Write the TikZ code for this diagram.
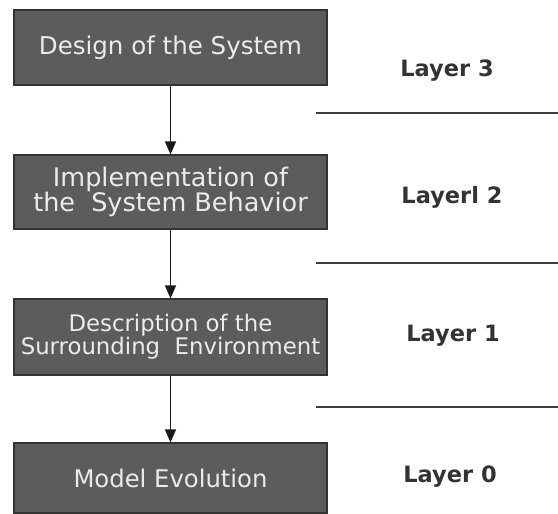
\documentclass[tikz,border=0pt]{standalone}
\usepackage{fontspec}
\setmainfont{DejaVu Sans}
\usetikzlibrary{arrows.meta}
\begin{document}
\begin{tikzpicture}[x=1pt,y=-1pt,
  layerbox/.style={draw=black!80,line width=1.2pt,fill=black!64,text=black!8,
    inner sep=0pt,align=center,minimum width=313pt},
  flow/.style={line width=1.6pt,draw=black!90,-{Triangle[length=13pt,width=11pt]}},
  divider/.style={line width=1.4pt,draw=black!75},
  layerlabel/.style={text=black!80,font=\bfseries\fontsize{22.5}{24}\selectfont}]
  \fill[white] (0,0) rectangle (558,514);
  \useasboundingbox (0,0) rectangle (558,514);

  % stacked boxes of the model
  \node[layerbox,minimum height=75pt,
        font=\fontsize{24.5}{24.5}\selectfont] (design) at (170.5,47.5)
        {Design of the System};
  \node[layerbox,minimum height=74pt,
        font=\fontsize{25.5}{23.5}\selectfont] (impl) at (170.5,192)
        {Implementation of\\the\ \ System Behavior};
  \node[layerbox,minimum height=76pt,
        font=\fontsize{22.8}{22}\selectfont] (env) at (170.5,337)
        {Description of the\\Surrounding\ \ Environment};
  \node[layerbox,minimum height=70pt,
        font=\fontsize{24.3}{24}\selectfont] (model) at (170.5,478)
        {Model Evolution};

  % flow between the boxes
  \draw[flow] (design.south) -- (impl.north);
  \draw[flow] (impl.south) -- (env.north);
  \draw[flow] (env.south) -- (model.north);

  % layer separators
  \coordinate (d1a) at (316,113); \coordinate (d1b) at (558,113);
  \coordinate (d2a) at (316,263); \coordinate (d2b) at (558,263);
  \coordinate (d3a) at (316,407); \coordinate (d3b) at (558,407);
  \draw[divider] (d1a) -- (d1b);
  \draw[divider] (d2a) -- (d2b);
  \draw[divider] (d3a) -- (d3b);

  % layer names
  \node[layerlabel] (l3) at (447,71) {Layer 3};
  \node[layerlabel] (l2) at (452,197) {Layerl 2};
  \node[layerlabel] (l1) at (453,336) {Layer 1};
  \node[layerlabel] (l0) at (450,477) {Layer 0};
\end{tikzpicture}
\end{document}
